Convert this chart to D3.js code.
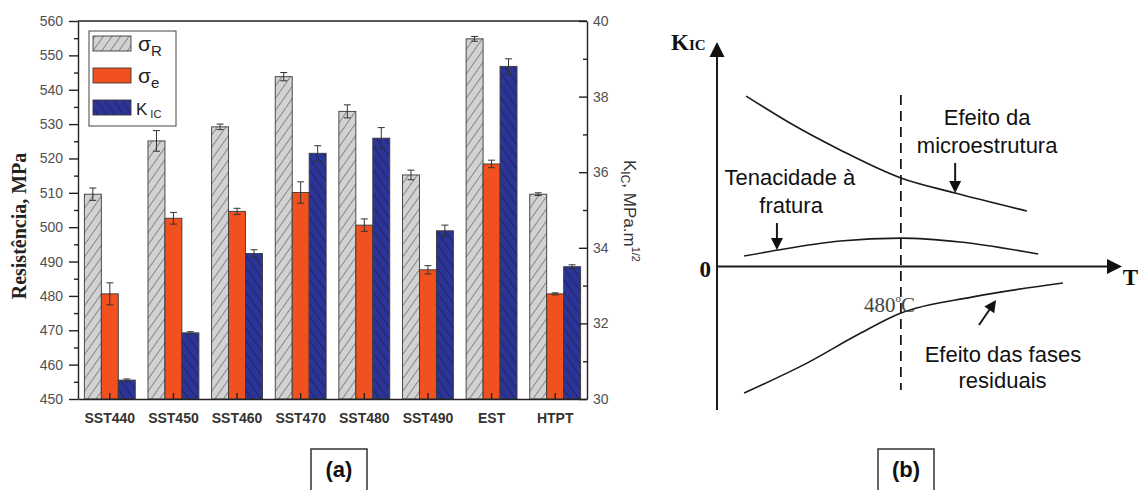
<!DOCTYPE html>
<html>
<head>
<meta charset="utf-8">
<script src="https://cdn.jsdelivr.net/npm/d3@7"></script>
<style>
  body { margin: 0; background: #fff; }
  svg { display: block; font-family: "Liberation Sans", Arial, sans-serif; }
</style>
</head>
<body>
<div class="chart"></div>
<script>
// (a) resistência e tenacidade por tratamento
const categories = ["SST440", "SST450", "SST460", "SST470", "SST480", "SST490", "EST", "HTPT"];
const sigmaR = [509.6, 525.1, 529.2, 543.8, 533.7, 515.2, 554.8, 509.6];
const sigmaRErr = [1.8, 3.0, 0.8, 1.2, 1.9, 1.4, 0.7, 0.4];
const sigmaE = [480.6, 502.6, 504.6, 510.1, 500.6, 487.6, 518.4, 480.6];
const sigmaEErr = [3.2, 1.7, 0.9, 3.1, 1.8, 1.2, 1.1, 0.3];
const kIC = [30.5, 31.75, 33.85, 36.5, 36.9, 34.45, 38.8, 33.5];
const kICErr = [0.03, 0.03, 0.1, 0.2, 0.28, 0.15, 0.2, 0.05];
const leftTicks = [450, 460, 470, 480, 490, 500, 510, 520, 530, 540, 550, 560];
const rightTicks = [30, 32, 34, 36, 38, 40];

// (b) esquema K_IC x T (unidades arbitrárias)
const microCurve = [[7.2, 75.9], [18, 63.9], [30.4, 51.9], [45.4, 39.4], [58.8, 32.7], [76.5, 24.7]];
const toughCurve = [[6.7, 4.6], [15.1, 7.3], [30.4, 11.3], [45.4, 12.6], [60, 10.9], [79.3, 5.5]];
const residualCurve = [[6.7, -56.4], [22.2, -43.1], [34.6, -30.6], [45.4, -20.8], [63.2, -13.6], [85.4, -7.4]];
const tempMark = 45.4;

let svg = d3.select(".chart").append("svg")
  .attr("width", 1140).attr("height", 490)
  .attr("viewBox", "0 0 1140 490");

// padrões de hachura
let defs = svg.append("defs");
function hatch(id, fill, line, angle) {
  let p = defs.append("pattern").attr("id", id)
    .attr("width", 7).attr("height", 7)
    .attr("patternUnits", "userSpaceOnUse")
    .attr("patternTransform", `rotate(${angle})`);
  p.append("rect").attr("width", 7).attr("height", 7).attr("fill", fill);
  p.append("line").attr("x1", 0).attr("y1", -1).attr("x2", 0).attr("y2", 8)
    .attr("stroke", line).attr("stroke-width", 1.2);
}
hatch("hR", "#d2d2d2", "#555", 35);
hatch("hK", "#2c3596", "#151a4c", -35);

const series = [
  { key: "R", vals: sigmaR, err: sigmaRErr, axis: "L", fill: "url(#hR)" },
  { key: "e", vals: sigmaE, err: sigmaEErr, axis: "L", fill: "#f1501f" },
  { key: "K", vals: kIC, err: kICErr, axis: "R", fill: "url(#hK)" }
];

// ---------- painel (a) ----------
let x0 = d3.scaleBand().domain(categories).range([78, 587]).paddingInner(0.2).paddingOuter(0.1);
let x1 = d3.scaleBand().domain(series.map(s => s.key)).range([0, x0.bandwidth()]);
let yL = d3.scaleLinear().domain([450, 560]).range([399, 21]);
let yR = d3.scaleLinear().domain([30, 40]).range([399, 21]);

let pa = svg.append("g");

// barras
let groups = pa.selectAll("g.grp").data(categories).enter().append("g")
  .attr("class", "grp")
  .attr("transform", d => `translate(${x0(d)},0)`);

series.forEach(function (s) {
  let y = s.axis === "L" ? yL : yR;
  groups.append("rect")
    .attr("x", x1(s.key))
    .attr("y", (d, i) => y(s.vals[i]))
    .attr("width", x1.bandwidth())
    .attr("height", (d, i) => y.range()[0] - y(s.vals[i]))
    .attr("fill", s.fill)
    .attr("stroke", "#3a3a3a").attr("stroke-width", 0.9);
  // barras de erro
  let cx = x1(s.key) + x1.bandwidth() / 2;
  let eb = groups.append("g").attr("stroke", "#333").attr("stroke-width", 1);
  eb.append("line").attr("x1", cx).attr("x2", cx)
    .attr("y1", (d, i) => y(s.vals[i] - s.err[i]))
    .attr("y2", (d, i) => y(s.vals[i] + s.err[i]));
  [-1, 1].forEach(function (sg) {
    eb.append("line").attr("x1", cx - 3.5).attr("x2", cx + 3.5)
      .attr("y1", (d, i) => y(s.vals[i] + sg * s.err[i]))
      .attr("y2", (d, i) => y(s.vals[i] + sg * s.err[i]));
  });
});

// eixos
let axL = pa.append("g").attr("transform", "translate(78,0)")
  .call(d3.axisLeft(yL).tickValues(leftTicks).tickSize(9).tickSizeOuter(0).tickPadding(6));
pa.append("g").attr("transform", "translate(78,0)")
  .call(d3.axisLeft(yL).tickValues(leftTicks.slice(0, -1).map(v => v + 5)).tickSize(4).tickFormat(""))
  .select(".domain").remove();
let axR = pa.append("g").attr("transform", "translate(587,0)")
  .call(d3.axisRight(yR).tickValues(rightTicks).tickSize(-8).tickSizeOuter(0).tickPadding(6));
pa.append("g").attr("transform", "translate(587,0)")
  .call(d3.axisRight(yR).tickValues(rightTicks.slice(0, -1).map(v => v + 1)).tickSize(-4).tickFormat(""))
  .select(".domain").remove();
let axB = pa.append("g").attr("transform", "translate(0,399)")
  .call(d3.axisBottom(x0).tickSize(-6).tickSizeOuter(0).tickPadding(14));
pa.append("line").attr("x1", 78).attr("x2", 587).attr("y1", 21).attr("y2", 21)
  .attr("stroke", "#222").attr("stroke-width", 1.4);

pa.selectAll(".domain, .tick line").attr("stroke", "#222").attr("stroke-width", 1.4);
[axL, axR].forEach(a => a.selectAll("text").attr("font-size", 14).attr("fill", "#505050")
  .attr("font-family", "Liberation Sans, Arial, sans-serif"));
axB.selectAll("text").attr("font-size", 14).attr("font-weight", "bold").attr("fill", "#333")
  .attr("font-family", "Liberation Sans, Arial, sans-serif");

// títulos dos eixos
pa.append("text")
  .attr("transform", "translate(26,226) rotate(-90)")
  .attr("text-anchor", "middle")
  .attr("font-family", "Liberation Serif, Times New Roman, serif")
  .attr("font-weight", "bold").attr("font-size", 20).attr("fill", "#222")
  .text("Resistência, MPa");
let tR = pa.append("text")
  .attr("transform", "translate(624,160) rotate(90)")
  .attr("font-size", 17).attr("fill", "#333");
tR.append("tspan").text("K");
tR.append("tspan").attr("font-size", 12).attr("dy", 3).text("IC");
tR.append("tspan").attr("dy", -3).text(", MPa.m");
tR.append("tspan").attr("font-size", 11).attr("dy", -8).text("1/2");

// legenda
let lg = pa.append("g");
lg.append("rect").attr("x", 89).attr("y", 31).attr("width", 87).attr("height", 95)
  .attr("fill", "#fff").attr("stroke", "#444").attr("stroke-width", 1);
const legendRows = [
  { s: series[0], main: "σ", sub: "R", y: 36 },
  { s: series[1], main: "σ", sub: "e", y: 68 },
  { s: series[2], main: "K", sub: "IC", y: 100 }
];
legendRows.forEach(function (r) {
  lg.append("rect").attr("x", 93).attr("y", r.y).attr("width", 38).attr("height", 15)
    .attr("fill", r.s.fill).attr("stroke", "#3a3a3a").attr("stroke-width", 0.9);
  let t = lg.append("text").attr("x", r.main === "K" ? 136 : 138).attr("y", r.y + 15)
    .attr("fill", "#222").attr("font-size", r.main === "K" ? 17 : 21);
  t.append("tspan").text(r.main);
  t.append("tspan").attr("font-size", r.main === "K" ? 11 : 15)
    .attr("dx", r.main === "K" ? 3 : 0).attr("dy", r.main === "K" ? 3 : 5).text(r.sub);
});

// ---------- painel (b) ----------
let bx = d3.scaleLinear().domain([0, 100]).range([717, 1122]);
let by = d3.scaleLinear().domain([-64, 100]).range([410, 42]);
let pb = svg.append("g").attr("stroke", "#1a1a1a");

function head(tip, angle, len, hw) {
  // ponta de seta: tip em px, ângulo da direção
  let ca = Math.cos(angle), sa = Math.sin(angle);
  let bxp = tip[0] - len * ca, byp = tip[1] - len * sa;
  pb.append("path")
    .attr("d", `M${tip[0]},${tip[1]}L${bxp - hw * sa},${byp + hw * ca}L${bxp + hw * sa},${byp - hw * ca}Z`)
    .attr("fill", "#111").attr("stroke", "none");
}
function arrow(a, b, len, hw) {
  let p1 = [bx(a[0]), by(a[1])], p2 = [bx(b[0]), by(b[1])];
  let ang = Math.atan2(p2[1] - p1[1], p2[0] - p1[0]);
  pb.append("line").attr("x1", p1[0]).attr("y1", p1[1])
    .attr("x2", p2[0] - (len - 2) * Math.cos(ang)).attr("y2", p2[1] - (len - 2) * Math.sin(ang))
    .attr("stroke-width", 2);
  head(p2, ang, len, hw);
}

// eixos com setas
pb.append("line").attr("x1", bx(0)).attr("x2", bx(0)).attr("y1", by(-64)).attr("y2", by(100) + 12)
  .attr("stroke-width", 2);
head([bx(0), by(100)], -Math.PI / 2, 15, 7.5);
pb.append("line").attr("x1", bx(0)).attr("x2", bx(100) - 12).attr("y1", by(0)).attr("y2", by(0))
  .attr("stroke-width", 2);
head([bx(100), by(0)], 0, 15, 7.5);

// linha tracejada 480 °C
pb.append("line").attr("x1", bx(tempMark)).attr("x2", bx(tempMark))
  .attr("y1", by(76.4)).attr("y2", by(-55.1))
  .attr("stroke-width", 1.8).attr("stroke-dasharray", "10,6");

// curvas
let line = d3.line().x(d => bx(d[0])).y(d => by(d[1])).curve(d3.curveMonotoneX);
[microCurve, toughCurve, residualCurve].forEach(function (c) {
  pb.append("path").attr("d", line(c)).attr("fill", "none").attr("stroke-width", 1.6);
});

// setas de anotação
arrow([58.8, 46.1], [58.8, 32.7], 12, 6);
arrow([14.8, 19.3], [14.8, 7.3], 12, 6);
arrow([64.7, -26.1], [68.9, -15], 12, 6);

// textos
const notes = [
  { t: "Efeito da", x: 66.7, y: 63.0 },
  { t: "microestrutura", x: 66.7, y: 50.5 },
  { t: "Tenacidade à", x: 18.0, y: 36.3 },
  { t: "fratura", x: 18.3, y: 23.8 },
  { t: "Efeito das fases", x: 70.6, y: -42.6 },
  { t: "residuais", x: 70.5, y: -54.2 }
];
let tb = svg.append("g");
tb.selectAll("text.note").data(notes).enter().append("text")
  .attr("class", "note")
  .attr("x", d => bx(d.x)).attr("y", d => by(d.y))
  .attr("text-anchor", "middle").attr("font-size", 22).attr("fill", "#111")
  .text(d => d.t);

let serif = "Liberation Serif, Times New Roman, serif";
let t480 = tb.append("text").attr("x", bx(36.3)).attr("y", by(-20.3))
  .attr("font-family", serif).attr("font-size", 21).attr("fill", "#444");
t480.append("tspan").text("480");
t480.append("tspan").attr("font-size", 11).attr("dy", -10).text("o");
t480.append("tspan").attr("dy", 10).text("C");

let tk = tb.append("text").attr("x", bx(0) - 46).attr("y", by(100) + 8)
  .attr("font-family", serif).attr("font-weight", "bold").attr("font-size", 23).attr("fill", "#111");
tk.append("tspan").text("K");
tk.append("tspan").attr("font-size", 15).text("IC");
tb.append("text").attr("x", bx(0) - 6).attr("y", by(0) + 11).attr("text-anchor", "end")
  .attr("font-family", serif).attr("font-weight", "bold").attr("font-size", 23).attr("fill", "#111")
  .text("0");
tb.append("text").attr("x", 1138).attr("y", by(0) + 19).attr("text-anchor", "end")
  .attr("font-family", serif).attr("font-weight", "bold").attr("font-size", 23).attr("fill", "#111")
  .text("T");

// rótulos (a) e (b)
[{ t: "(a)", x: 311 }, { t: "(b)", x: 878 }].forEach(function (l) {
  svg.append("rect").attr("x", l.x).attr("y", 449).attr("width", 56).attr("height", 50)
    .attr("fill", "none").attr("stroke", "#333").attr("stroke-width", 1.5);
  svg.append("text").attr("x", l.x + 28).attr("y", 477).attr("text-anchor", "middle")
    .attr("font-size", 22).attr("font-weight", "bold").attr("fill", "#111").text(l.t);
});
</script>
</body>
</html>
